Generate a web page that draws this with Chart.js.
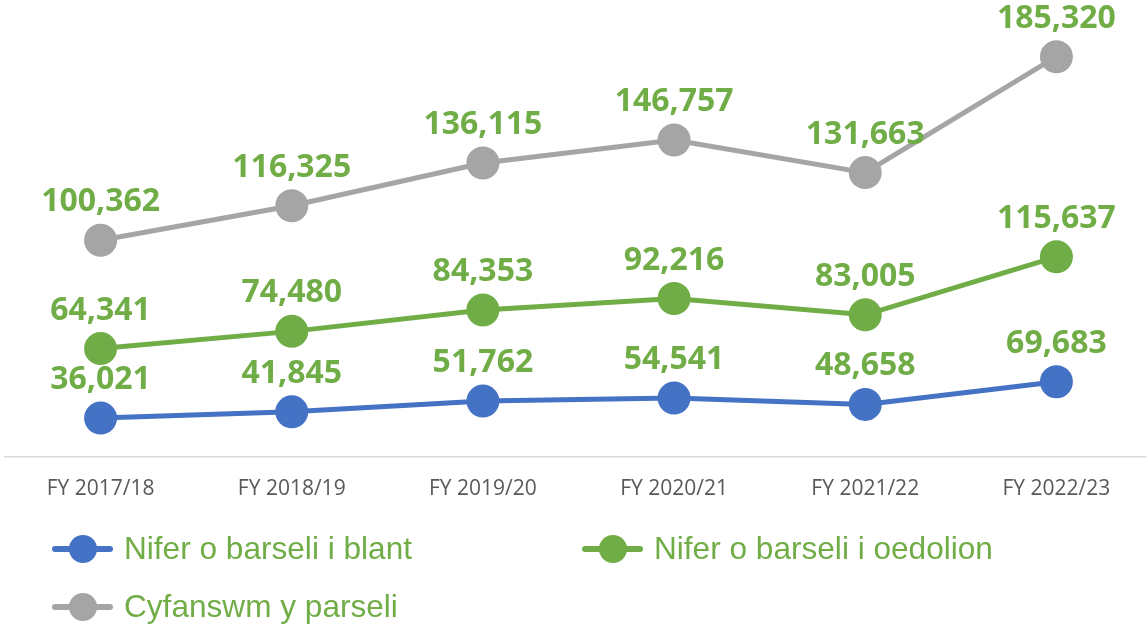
<!DOCTYPE html>
<html>
<head>
<meta charset="utf-8">
<script src="https://cdn.jsdelivr.net/npm/chart.js@4"></script>
<style>
  html, body { margin: 0; padding: 0; background: #fff; overflow: hidden; }
  #myChart { display: block; }
</style>
</head>
<body>
<canvas id="myChart" width="1152" height="626"></canvas>
<script>
const categories = ['FY 2017/18', 'FY 2018/19', 'FY 2019/20', 'FY 2020/21', 'FY 2021/22', 'FY 2022/23'];
const blant = [36021, 41845, 51762, 54541, 48658, 69683];
const oedolion = [64341, 74480, 84353, 92216, 83005, 115637];
const cyfanswm = [100362, 116325, 136115, 146757, 131663, 185320];
const seriesNames = ['Nifer o barseli i blant', 'Nifer o barseli i oedolion', 'Cyfanswm y parseli'];
const seriesColors = ['#4472c4', '#70ad47', '#a5a5a5'];
const labelColor = '#70ad47';

// value labels above each point (raw value, not the stacked sum)
const valueLabels = {
    id: 'valueLabels',
    afterDatasetsDraw(chart) {
        const ctx = chart.ctx;
        ctx.save();
        ctx.font = 'bold 32px "Open Sans"';
        ctx.fillStyle = labelColor;
        ctx.textAlign = 'center';
        ctx.textBaseline = 'alphabetic';
        chart.data.datasets.forEach(function(ds, i) {
            chart.getDatasetMeta(i).data.forEach(function(pt, j) {
                ctx.fillText(ds.data[j].toLocaleString('en-US'), pt.x, pt.y - 29);
            });
        });
        ctx.restore();
    }
};

// legend with line + circle markers
const legendBox = {
    id: 'legendBox',
    afterDraw(chart) {
        const ctx = chart.ctx;
        const spots = [[55, 549], [585, 549], [55, 607]];
        ctx.save();
        seriesNames.forEach(function(name, i) {
            let x = spots[i][0], y = spots[i][1];
            ctx.strokeStyle = seriesColors[i];
            ctx.lineWidth = 6;
            ctx.lineCap = 'round';
            ctx.beginPath();
            ctx.moveTo(x, y);
            ctx.lineTo(x + 55, y);
            ctx.stroke();
            ctx.fillStyle = seriesColors[i];
            ctx.beginPath();
            ctx.arc(x + 28, y, 14, 0, Math.PI * 2);
            ctx.fill();
            ctx.fillStyle = labelColor;
            ctx.font = '31.6px "Liberation Sans"';
            ctx.textAlign = 'left';
            ctx.textBaseline = 'middle';
            ctx.fillText(name, x + 69, y + 1);
        });
        ctx.restore();
    }
};

const ctx = document.getElementById('myChart').getContext('2d');
const myChart = new Chart(ctx, {
    type: 'line',
    data: {
        labels: categories,
        datasets: [{
            label: seriesNames[0],
            data: blant,
            borderColor: seriesColors[0],
            backgroundColor: seriesColors[0],
            borderWidth: 5,
            pointRadius: 14,
            pointHoverRadius: 14,
            clip: false
        },
        {
            label: seriesNames[1],
            data: oedolion,
            borderColor: seriesColors[1],
            backgroundColor: seriesColors[1],
            borderWidth: 5,
            pointRadius: 14,
            pointHoverRadius: 14,
            clip: false
        },
        {
            label: seriesNames[2],
            data: cyfanswm,
            borderColor: seriesColors[2],
            backgroundColor: seriesColors[2],
            borderWidth: 5,
            pointRadius: 14,
            pointHoverRadius: 14,
            clip: false
        }]
    },
    options: {
        responsive: false,
        animation: false,
        layout: { autoPadding: false, padding: { top: 25, left: 5, right: 0, bottom: 129 } },
        plugins: {
            legend: { display: false },
            tooltip: { enabled: false }
        },
        scales: {
            x: {
                offset: true,
                grid: { display: false, drawTicks: false },
                border: { display: true, color: '#d9d9d9', width: 1.5 },
                ticks: {
                    color: '#595959',
                    font: { family: 'Open Sans', size: 21 },
                    padding: 19,
                    maxRotation: 0
                },
                afterFit(scale) { scale.height = 40; }
            },
            y: {
                display: false,
                stacked: true,
                min: 0,
                max: 400000
            }
        }
    },
    plugins: [valueLabels, legendBox]
});
</script>
</body>
</html>
